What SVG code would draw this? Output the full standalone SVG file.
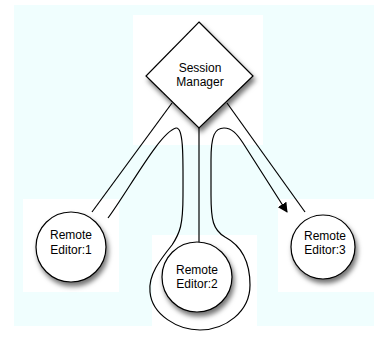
<svg xmlns="http://www.w3.org/2000/svg" width="374" height="338" viewBox="0 0 374 338">
<style>
.bg{fill:#ffffff;stroke:none}
.shape{fill:#ffffff;stroke:#000000;stroke-width:1.2;filter:url(#sh)}
.lbl{font-family:"Liberation Sans",Arial,sans-serif;font-size:12px;fill:#000000;text-anchor:middle}
.con{fill:none;stroke:#000000;stroke-width:1.2}
</style>
<defs>
<filter id="sh" x="-30%" y="-30%" width="170%" height="170%">
<feDropShadow dx="2" dy="4" stdDeviation="2.5" flood-color="#000000" flood-opacity="0.55"/>
</filter>
<marker id="arr" markerWidth="10" markerHeight="10" refX="9" refY="5" orient="auto" markerUnits="userSpaceOnUse">
<path d="M0,0 L10,5 L0,10 Z" fill="#000000"/>
</marker>
</defs>
<rect x="0" y="0" width="374" height="338" fill="#ffffff"/>
<rect x="14" y="5" width="360" height="321" fill="#f0fefe"/>
<rect class="bg" x="133" y="15" width="130" height="130"/>
<rect class="bg" x="23" y="199" width="96" height="93"/>
<rect class="bg" x="152" y="235" width="105" height="91"/>
<rect class="bg" x="278" y="199" width="96" height="93"/>
<g id="connectors">
<line class="con" x1="172" y1="103" x2="92" y2="212"/>
<line class="con" x1="199" y1="128" x2="199" y2="242"/>
<line class="con" x1="227" y1="103" x2="305" y2="212"/>
<path class="con" marker-end="url(#arr)" d="M108 218 C130 188 160 132 176 128 C184 127 183 160 183 195 C183 225 180 233 172 245 C160 260 148 275 150 292 C152 315 178 330 200 330 C225 330 250 312 250 285 C250 260 240 245 225 237 C213 230 211 220 211 195 L211 160 C211 135 215 128 224 128 C232 128 237 134 243 143 L287 212"/>
</g>
<g id="session-manager">
<polygon class="shape" points="199,22 253,76 199,128 146,76"/>
<text class="lbl" x="200" y="72">Session</text>
<text class="lbl" x="200" y="86">Manager</text>
</g>
<g id="remote-editor-1">
<circle class="shape" cx="71" cy="247" r="35"/>
<text class="lbl" x="71" y="239">Remote</text>
<text class="lbl" x="71" y="254">Editor:1</text>
</g>
<g id="remote-editor-2">
<circle class="shape" cx="197" cy="277" r="35"/>
<text class="lbl" x="197" y="274">Remote</text>
<text class="lbl" x="197" y="288">Editor:2</text>
</g>
<g id="remote-editor-3">
<circle class="shape" cx="323" cy="247" r="32"/>
<text class="lbl" x="325" y="240">Remote</text>
<text class="lbl" x="325" y="254">Editor:3</text>
</g>
</svg>
